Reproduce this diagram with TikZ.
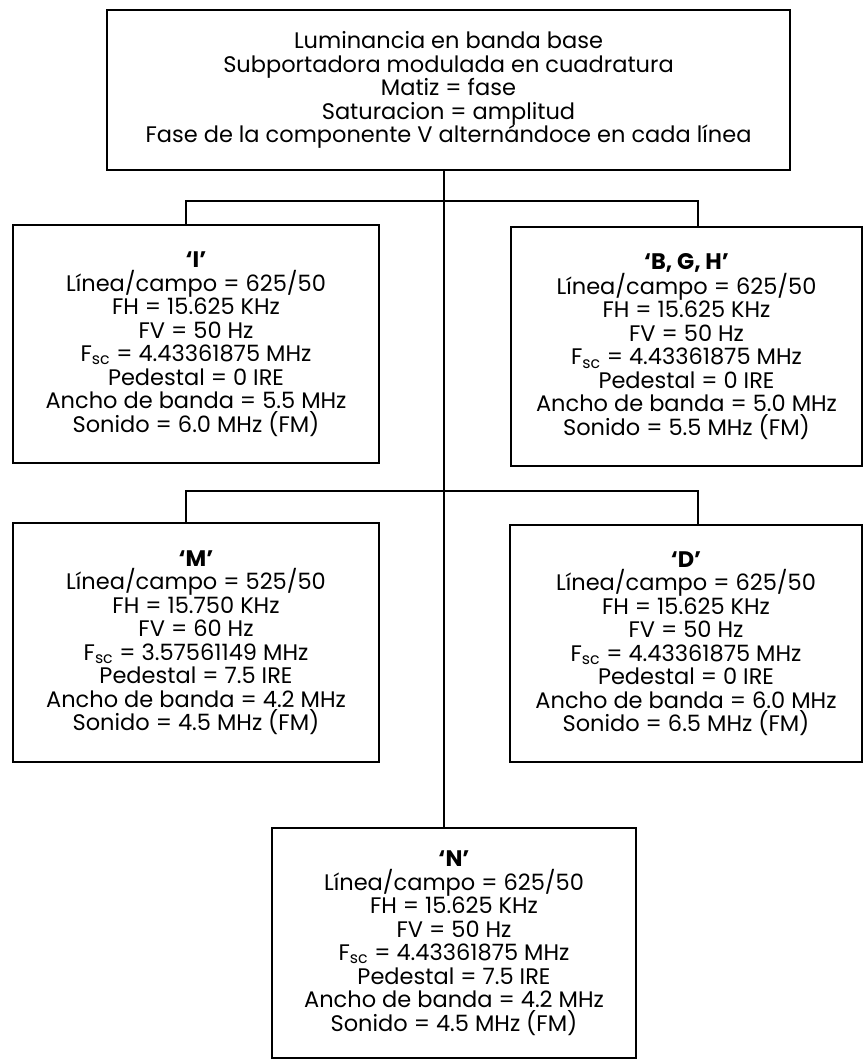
\documentclass[tikz,border=0pt]{standalone}
\usepackage{fontspec}
\setmainfont{Poppins}
\usepackage{tikz}

\tikzset{
  sysbox/.style={draw, line width=1.6pt, align=center, inner sep=0pt,
    font=\fontsize{22.5}{23.5}\selectfont},
  wire/.style={line width=1.2pt},
}

\begin{document}
\begin{tikzpicture}[x=1pt,y=-1pt]
      \useasboundingbox (0,0) rectangle (865,1061);
      \node[sysbox, minimum width=683pt, minimum height=160pt] (top) at (448.5,90)
        {Luminancia en banda base\\ Subportadora modulada en cuadratura\\ Matiz = fase\\
         Saturacion = amplitud\\ Fase de la componente V alternándoce en cada línea};
      \node[sysbox, minimum width=366pt, minimum height=238pt] (sysI) at (196,344)
        {\textbf{‘I’}\\ Línea/campo = 625/50\\ FH = 15.625 KHz\\ FV = 50 Hz\\
         F\textsubscript{sc} = 4.43361875 MHz\\ Pedestal = 0 IRE\\
         Ancho de banda = 5.5 MHz\\ Sonido = 6.0 MHz (FM)};
      \node[sysbox, minimum width=351pt, minimum height=239pt] (sysBGH) at (686.5,346.5)
        {\textbf{‘B, G, H’}\\ Línea/campo = 625/50\\ FH = 15.625 KHz\\ FV = 50 Hz\\
         F\textsubscript{sc} = 4.43361875 MHz\\ Pedestal = 0 IRE\\
         Ancho de banda = 5.0 MHz\\ Sonido = 5.5 MHz (FM)};
      \node[sysbox, minimum width=366pt, minimum height=239pt] (sysM) at (196,642.5)
        {\textbf{‘M’}\\ Línea/campo = 525/50\\ FH = 15.750 KHz\\ FV = 60 Hz\\
         F\textsubscript{sc} = 3.57561149 MHz\\ Pedestal = 7.5 IRE\\
         Ancho de banda = 4.2 MHz\\ Sonido = 4.5 MHz (FM)};
      \node[sysbox, minimum width=352pt, minimum height=237pt] (sysD) at (686,643.5)
        {\textbf{‘D’}\\ Línea/campo = 625/50\\ FH = 15.625 KHz\\ FV = 50 Hz\\
         F\textsubscript{sc} = 4.43361875 MHz\\ Pedestal = 0 IRE\\
         Ancho de banda = 6.0 MHz\\ Sonido = 6.5 MHz (FM)};
      \node[sysbox, minimum width=364pt, minimum height=230pt] (sysN) at (454,943)
        {\textbf{‘N’}\\ Línea/campo = 625/50\\ FH = 15.625 KHz\\ FV = 50 Hz\\
         F\textsubscript{sc} = 4.43361875 MHz\\ Pedestal = 7.5 IRE\\
         Ancho de banda = 4.2 MHz\\ Sonido = 4.5 MHz (FM)};
      % tree lines
      \coordinate (trunk) at (444,0);
      \coordinate (stubL) at (186,0);
      \coordinate (stubR) at (698,0);
      \coordinate (fork1) at (444,201);
      \coordinate (fork2) at (444,491);
      \draw[wire] (top.south -| trunk) -- (sysN.north -| trunk);
      \draw[wire] (sysI.north -| stubL) |- (fork1) -| (sysBGH.north -| stubR);
      \draw[wire] (sysM.north -| stubL) |- (fork2) -| (sysD.north -| stubR);
\end{tikzpicture}
\end{document}
